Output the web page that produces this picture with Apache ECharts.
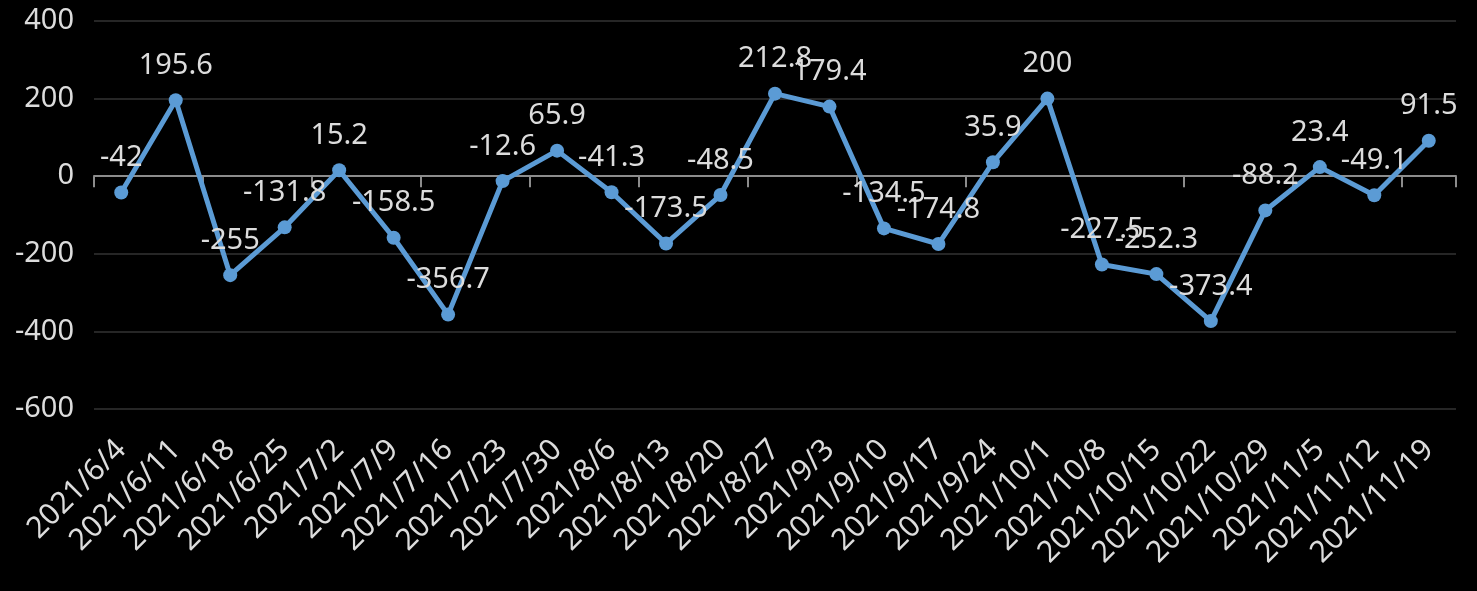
<!DOCTYPE html>
<html><head><meta charset="utf-8">
<script src="https://cdn.jsdelivr.net/npm/echarts@6/dist/echarts.min.js"></script>
<style>html,body{margin:0;padding:0;background:#000;}#c{width:1477px;height:591px;}</style>
</head><body><div id="c"></div>
<script>
const categories = ['2021/6/4','2021/6/11','2021/6/18','2021/6/25','2021/7/2','2021/7/9','2021/7/16','2021/7/23','2021/7/30','2021/8/6','2021/8/13','2021/8/20','2021/8/27','2021/9/3','2021/9/10','2021/9/17','2021/9/24','2021/10/1','2021/10/8','2021/10/15','2021/10/22','2021/10/29','2021/11/5','2021/11/12','2021/11/19'];
const values = [-42,195.6,-255,-131.8,15.2,-158.5,-356.7,-12.6,65.9,-41.3,-173.5,-48.5,212.8,179.4,-134.5,-174.8,35.9,200,-227.5,-252.3,-373.4,-88.2,23.4,-49.1,91.5];
const yTicks = [-600,-400,-200,0,200,400];

const font = '"Noto Sans", "DejaVu Sans", sans-serif';
const chart = echarts.init(document.getElementById('c'));
chart.setOption({
  backgroundColor: '#000',
  animation: false,
  grid: {left: 94, right: 21, top: 21, bottom: 182},
  xAxis: [{
    type: 'category', data: categories, boundaryGap: true,
    axisLine: {onZero: true, lineStyle: {color: '#8c8c8c', width: 2}},
    axisTick: {show: true, length: 11, lineStyle: {color: '#8c8c8c', width: 2}},
    axisLabel: {show: false}
  }, {
    type: 'category', data: categories, boundaryGap: true, position: 'bottom',
    axisLine: {show: false}, axisTick: {show: false},
    axisLabel: {show: true, rotate: 45, margin: 36, color: '#dcdcdc', fontSize: 30, fontFamily: font, interval: 0}
  }],
  yAxis: {
    type: 'value', min: yTicks[0], max: yTicks[yTicks.length-1], interval: 200,
    axisLine: {show: false}, axisTick: {show: false},
    axisLabel: {color: '#dcdcdc', fontSize: 29, fontFamily: font, margin: 20},
    splitLine: {lineStyle: {color: '#262626', width: 2}}
  },
  series: [{
    type: 'line', data: values, xAxisIndex: 0,
    lineStyle: {color: '#5b9bd5', width: 5},
    itemStyle: {color: '#5b9bd5'},
    symbol: 'circle', symbolSize: 14,
    label: {show: true, position: 'top', distance: 13, color: '#dcdcdc', fontSize: 29, fontFamily: font}
  }]
});
</script></body></html>
